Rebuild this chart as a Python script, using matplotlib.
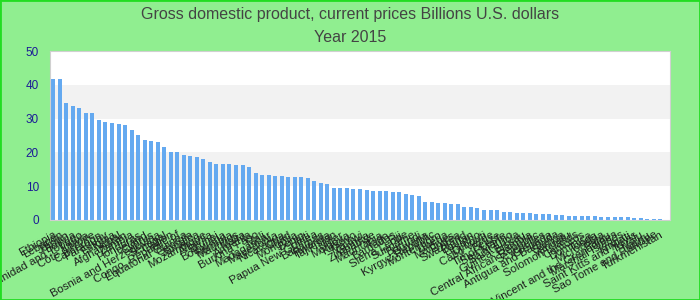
import matplotlib
matplotlib.use("Agg")
import matplotlib.pyplot as plt
from matplotlib.patches import Rectangle

plt.rcParams['font.family'] = ['Liberation Sans', 'DejaVu Sans']

# Данные
countries = [
    "Ethiopia", "Lebanon", "Jordan", "Bolivia", "Trinidad and Tobago", "Latvia",
    "Côte d'Ivoire", "Cameroon", "Paraguay", "Estonia", "Nepal", "Afghanistan",
    "Zambia", "Honduras", "Iceland", "Cyprus", "Bosnia and Herzegovina", "Senegal",
    "Gabon", "Congo, Republic of", "Equatorial Guinea", "Georgia", "Jamaica",
    "Mozambique", "Albania", "Brunei", "Botswana", "Namibia", "Mauritius", "Malta",
    "Armenia", "Burkina Faso", "Mali", "Madagascar", "Macedonia", "Nicaragua",
    "Chad", "Mongolia", "Benin", "Haiti", "Papua New Guinea", "Bahamas", "Rwanda",
    "Tajikistan", "Niger", "Moldova", "Kosovo", "Malawi", "Guinea", "Zimbabwe",
    "Mauritania", "Togo", "Barbados", "Fiji", "Sierra Leone", "Suriname",
    "Burundi", "Guyana", "Kyrgyz Republic", "Montenegro", "Liberia", "Maldives",
    "Eritrea", "Swaziland", "Bhutan", "Lesotho", "Djibouti", "Cabo Verde",
    "Belize", "Timor-Leste", "San Marino", "Saint Lucia", "Guinea-Bissau",
    "Gambia", "Central African Republic", "Seychelles", "Grenada",
    "Antigua and Barbuda", "Samoa", "Vanuatu", "Solomon Islands", "Comoros",
    "Dominica", "Tonga", "Micronesia", "Palau",
    "Saint Vincent and the Grenadines", "Marshall Islands", "Kiribati",
    "Saint Kitts and Nevis", "Tuvalu", "Nauru", "Sao Tome and Principe",
    "Turkmenistan",
]
gdp = [
    41.6, 41.6, 34.5, 33.6, 33.0, 31.8, 31.8, 29.7, 29.1, 28.8,
    28.5, 28.2, 26.7, 25.2, 23.8, 23.5, 23.2, 21.7, 20.2, 20.2,
    19.3, 19.0, 18.7, 18.1, 17.2, 16.6, 16.6, 16.6, 16.3, 16.3,
    15.7, 14.0, 13.4, 13.4, 13.1, 13.1, 12.8, 12.8, 12.8, 12.5,
    11.6, 11.0, 10.7, 9.5, 9.5, 9.5, 9.2, 9.2, 8.9, 8.6,
    8.6, 8.6, 8.3, 8.3, 7.7, 7.4, 7.1, 5.3, 5.3, 5.0,
    5.0, 4.8, 4.8, 3.9, 3.9, 3.6, 3.0, 3.0, 3.0, 2.4,
    2.4, 2.1, 2.1, 2.1, 1.8, 1.8, 1.8, 1.5, 1.5, 1.2,
    1.2, 1.2, 1.2, 1.2, 0.9, 0.9, 0.9, 0.9, 0.9, 0.6,
    0.6, 0.3, 0.3, 0.3,
]
y_ticks = [0, 10, 20, 30, 40, 50]

fig = plt.figure(figsize=(7, 3), dpi=100, facecolor='#90ee90')
ax = fig.add_axes([50 / 700, 1 - 220 / 300, 620 / 700, 169 / 300])
ax.set_facecolor('white')

# полосы фона
for lo in (10, 30):
    ax.axhspan(lo, lo + 10, color='#f2f2f2', zorder=0, lw=0)

x = list(range(len(gdp)))
ax.bar(x, gdp, width=0.62, color='#64a9f0', zorder=2)

ax.set_xlim(-0.5, len(gdp) + 0.5)
ax.set_ylim(0, 50)
ax.set_yticks(y_ticks)
ax.tick_params(axis='y', length=0, pad=8, labelsize=8.5, labelcolor='#1c1c96')
ax.set_xticks(x)
ax.set_xticklabels(countries, rotation=29, ha='right', rotation_mode='anchor',
                   fontsize=8.2, color='#1e1e1e')
ax.tick_params(axis='x', length=0, pad=7)
for s in ax.spines.values():
    s.set_color('#d0d0d0')

fig.text(0.5, 1 - 14 / 300, 'Gross domestic product, current prices Billions U.S. dollars',
         ha='center', va='center', fontsize=11.5, color='#444444')
fig.text(0.5, 1 - 37 / 300, 'Year 2015', ha='center', va='center',
         fontsize=11.5, color='#444444')

fig.patches.append(Rectangle((0, 0), 1, 1, transform=fig.transFigure, fill=False,
                             edgecolor='#22dd22', lw=2))

fig.savefig('out.png', dpi=100, facecolor=fig.get_facecolor())
